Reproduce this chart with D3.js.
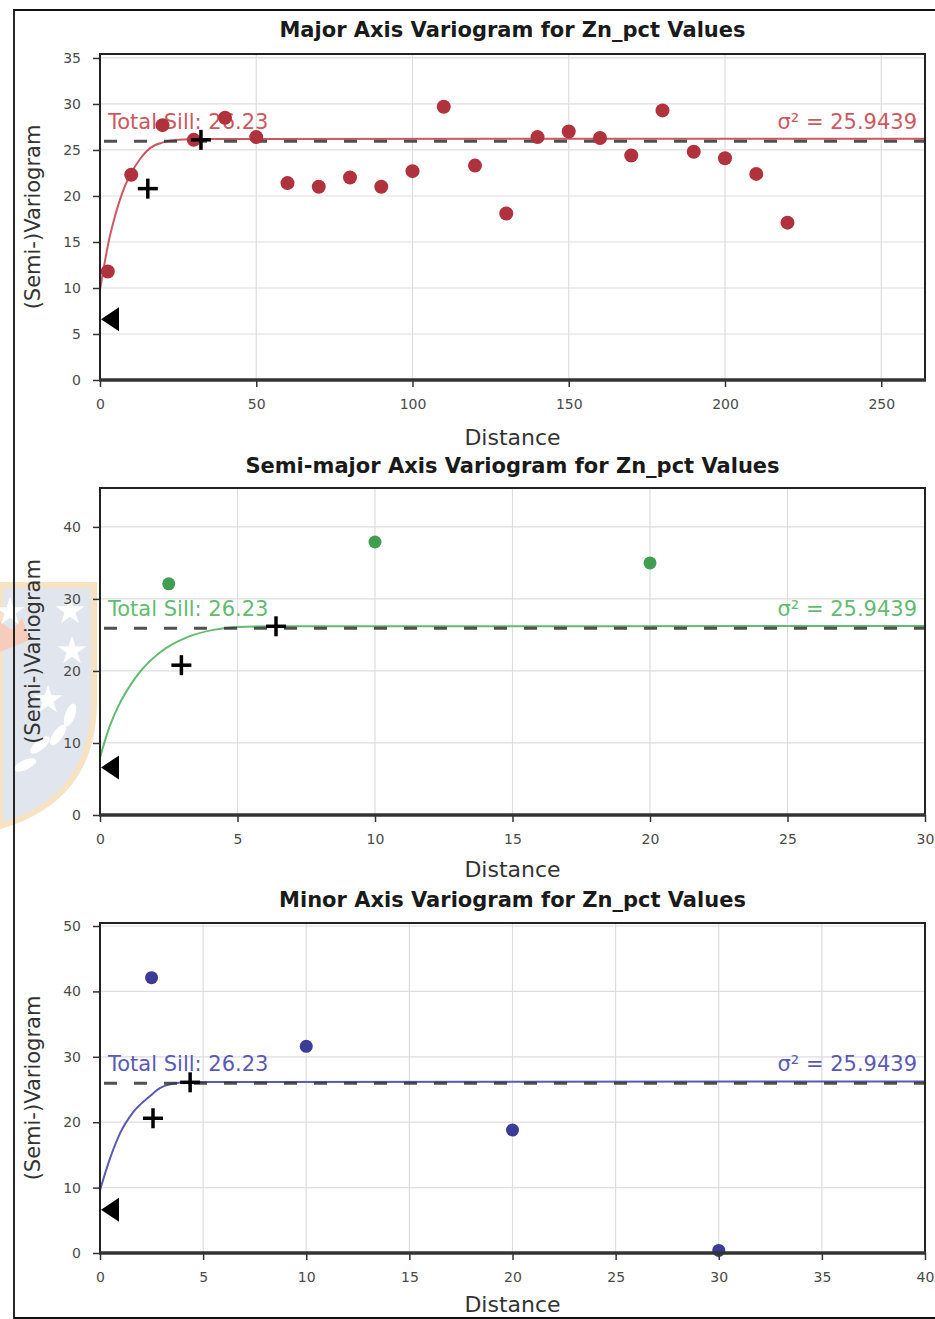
<!DOCTYPE html>
<html>
<head>
<meta charset="utf-8">
<script src="https://cdn.jsdelivr.net/npm/d3@7"></script>
<style>
  body { margin: 0; background: #fff; }
  svg { display: block; font-family: "DejaVu Sans", sans-serif; }
</style>
</head>
<body>
<div id="chart"></div>
<script>
const totalSill = 26.23;
const sampleVariance = 25.9439;
const nugget = 6.6;

// major axis
const majorLags = [2.5, 10, 20, 30, 40, 50, 60, 70, 80, 90, 100, 110, 120, 130, 140, 150, 160, 170, 180, 190, 200, 210, 220];
const majorGamma = [11.8, 22.3, 27.7, 26.1, 28.5, 26.4, 21.4, 21.0, 22.0, 21.0, 22.7, 29.7, 23.3, 18.1, 26.4, 27.0, 26.3, 24.4, 29.3, 24.8, 24.1, 22.4, 17.1];
const majorModelLags = [0, 1, 2, 3, 4, 6, 8, 10, 13, 16, 20, 25, 32, 264];
const majorModelGamma = [9.8, 11.8, 13.7, 15.4, 16.8, 19.2, 21.1, 22.5, 24.1, 25.2, 25.8, 26.1, 26.2, 26.23];
const majorRangeLags = [15.3, 32.3];
const majorRangeGamma = [20.8, 26.1];
const majorXTicks = [0, 50, 100, 150, 200, 250];
const majorYTicks = [0, 5, 10, 15, 20, 25, 30, 35];

// semi-major axis
const semiLags = [2.5, 10, 20];
const semiGamma = [32.1, 37.9, 35.0];
const semiModelLags = [0, 0.36, 0.73, 1.1, 1.46, 2.19, 3.18, 4.12, 5.0, 6.4, 30];
const semiModelGamma = [8.0, 12.4, 15.6, 18.0, 19.9, 22.6, 24.7, 25.7, 26.1, 26.2, 26.23];
const semiRangeLags = [2.96, 6.4];
const semiRangeGamma = [20.8, 26.2];
const semiXTicks = [0, 5, 10, 15, 20, 25, 30];
const semiYTicks = [0, 10, 20, 30, 40];

// minor axis
const minorLags = [2.5, 10, 20, 30];
const minorGamma = [42.1, 31.6, 18.8, 0.4];
const minorModelLags = [0, 0.49, 0.97, 1.6, 2.43, 2.9, 3.4, 4.4, 40];
const minorModelGamma = [9.6, 14.5, 18.3, 21.5, 24.0, 25.2, 25.8, 26.15, 26.23];
const minorRangeLags = [2.57, 4.37];
const minorRangeGamma = [20.6, 26.1];
const minorXTicks = [0, 5, 10, 15, 20, 25, 30, 35, 40];
const minorYTicks = [0, 10, 20, 30, 40, 50];

const width = 935;
const height = 1319;
const left = 100;
const right = 925;

const svg = d3.select('#chart')
  .append('svg')
  .attr('width', width)
  .attr('height', height)
  .attr('viewBox', `0 0 ${width} ${height}`);

svg.append('rect')
  .attr('width', width)
  .attr('height', height)
  .attr('fill', '#fff');

// faint crest printed behind the middle panel
function drawCrest() {
  const g = svg.append('g').attr('opacity', 0.7);
  g.append('path')
    .attr('d', 'M0,585 L94,585 L94,700 C94,768 62,808 0,826 Z')
    .attr('fill', '#d3dbe7')
    .attr('stroke', '#f5d6a8')
    .attr('stroke-width', 6);
  g.append('path')
    .attr('d', 'M0,622 L12,630 L22,618 L30,640 L0,652 Z')
    .attr('fill', '#f3b9a0');
  const star = d3.symbol().type(d3.symbolStar).size(260);
  [[10, 612], [70, 611], [72, 651], [48, 700]].forEach(([cx, cy]) => {
    g.append('path')
      .attr('d', star())
      .attr('transform', `translate(${cx},${cy})`)
      .attr('fill', '#fff');
  });
  [[40, 745, -40], [58, 735, -55], [25, 765, -25], [70, 715, -70]].forEach(([cx, cy, a]) => {
    g.append('ellipse')
      .attr('cx', cx)
      .attr('cy', cy)
      .attr('rx', 12)
      .attr('ry', 5)
      .attr('transform', `rotate(${a},${cx},${cy})`)
      .attr('fill', '#fff');
  });
}
drawCrest();

class VariogramPanel {
  constructor(opts) {
    Object.assign(this, opts);
  }

  init() {
    const { top, bottom, xMax, yMax } = this;
    this.x = d3.scaleLinear().domain([0, xMax]).range([left, right]);
    this.y = d3.scaleLinear().domain([0, yMax]).range([bottom, top]);
    this.g = svg.append('g');
    this.drawGrid();
    this.drawModel();
    this.drawPoints();
    this.drawAxes();
    this.drawLabels();
  }

  drawGrid() {
    const { g, x, y, xTicks, yTicks, top, bottom } = this;
    g.append('g')
      .selectAll('line')
      .data(xTicks)
      .join('line')
      .attr('x1', d => x(d)).attr('x2', d => x(d))
      .attr('y1', top).attr('y2', bottom)
      .attr('stroke', '#dedede')
      .attr('stroke-width', 1.2);
    g.append('g')
      .selectAll('line')
      .data(yTicks)
      .join('line')
      .attr('x1', left).attr('x2', right)
      .attr('y1', d => y(d)).attr('y2', d => y(d))
      .attr('stroke', '#dedede')
      .attr('stroke-width', 1.2);
  }

  drawModel() {
    const { g, x, y, modelLags, modelGamma, lightColor, xMax } = this;
    const line = d3.line()
      .x(d => x(d[0]))
      .y(d => y(d[1]))
      .curve(d3.curveMonotoneX);
    g.append('path')
      .attr('d', line(d3.zip(modelLags, modelGamma)))
      .attr('fill', 'none')
      .attr('stroke', lightColor)
      .attr('stroke-width', 2);

    g.append('line')
      .attr('x1', x(0)).attr('x2', x(xMax))
      .attr('y1', y(sampleVariance)).attr('y2', y(sampleVariance))
      .attr('stroke', '#333')
      .attr('stroke-opacity', 0.85)
      .attr('stroke-width', 3)
      .attr('stroke-dasharray', '13,17')
      .attr('stroke-dashoffset', -4);

    g.append('text')
      .attr('x', left + 8)
      .attr('y', y(totalSill) - 10)
      .attr('font-size', 21)
      .attr('fill', lightColor)
      .text(`Total Sill: ${totalSill.toFixed(2)}`);
    g.append('text')
      .attr('x', right - 8)
      .attr('y', y(totalSill) - 10)
      .attr('font-size', 21)
      .attr('text-anchor', 'end')
      .attr('fill', lightColor)
      .text(`σ² = ${sampleVariance}`);
  }

  drawPoints() {
    const { g, x, y, lags, gamma, rangeLags, rangeGamma, color, r } = this;
    g.append('g')
      .selectAll('circle')
      .data(d3.zip(lags, gamma))
      .join('circle')
      .attr('cx', d => x(d[0]))
      .attr('cy', d => y(d[1]))
      .attr('r', r)
      .attr('fill', color);

    const cross = g.append('g')
      .selectAll('g')
      .data(d3.zip(rangeLags, rangeGamma))
      .join('g')
      .attr('transform', d => `translate(${x(d[0])},${y(d[1])})`);
    cross.append('line')
      .attr('x1', -10).attr('x2', 10)
      .attr('stroke', '#000').attr('stroke-width', 3.5);
    cross.append('line')
      .attr('y1', -10).attr('y2', 10)
      .attr('stroke', '#000').attr('stroke-width', 3.5);

    // nugget marker
    const nx = x(0);
    const ny = y(nugget);
    g.append('path')
      .attr('d', `M${nx + 1},${ny} L${nx + 19},${ny - 12} L${nx + 19},${ny + 12} Z`)
      .attr('fill', '#000');
  }

  drawAxes() {
    const { g, x, y, xTicks, yTicks, top, bottom } = this;
    const xAxis = g.append('g')
      .attr('transform', `translate(0,${bottom})`)
      .call(d3.axisBottom(x).tickValues(xTicks).tickSize(7).tickPadding(12).tickSizeOuter(0));
    const yAxis = g.append('g')
      .attr('transform', `translate(${left},0)`)
      .call(d3.axisLeft(y).tickValues(yTicks).tickSize(7).tickPadding(12).tickSizeOuter(0));
    [xAxis, yAxis].forEach(a => {
      a.select('.domain').remove();
      a.selectAll('line').attr('stroke', '#333').attr('stroke-width', 1.5);
      a.selectAll('text')
        .attr('font-size', 14)
        .attr('font-family', '"DejaVu Sans", sans-serif')
        .attr('fill', '#4a4a4a');
    });

    g.append('rect')
      .attr('x', left)
      .attr('y', top)
      .attr('width', right - left)
      .attr('height', bottom - top)
      .attr('fill', 'none')
      .attr('stroke', '#222')
      .attr('stroke-width', 2);
    g.append('line')
      .attr('x1', left - 1).attr('x2', right + 1)
      .attr('y1', bottom).attr('y2', bottom)
      .attr('stroke', '#333')
      .attr('stroke-width', 3.5);
  }

  drawLabels() {
    const { g, title, top, bottom, titleY, xLabelY } = this;
    const mid = (left + right) / 2;
    g.append('text')
      .attr('x', mid)
      .attr('y', titleY)
      .attr('text-anchor', 'middle')
      .attr('font-size', 21)
      .attr('font-weight', 'bold')
      .attr('fill', '#1a1a1a')
      .text(title);
    g.append('text')
      .attr('x', mid)
      .attr('y', xLabelY)
      .attr('text-anchor', 'middle')
      .attr('font-size', 22)
      .attr('fill', '#333')
      .text('Distance');
    g.append('text')
      .attr('transform', `translate(33,${(top + bottom) / 2}) rotate(-90)`)
      .attr('dy', '0.35em')
      .attr('text-anchor', 'middle')
      .attr('font-size', 21)
      .attr('fill', '#333')
      .text('(Semi-)Variogram');
  }
}

new VariogramPanel({
  title: 'Major Axis Variogram for Zn_pct Values',
  top: 54, bottom: 380, titleY: 37, xLabelY: 445,
  xMax: 264, yMax: 35.43,
  xTicks: majorXTicks, yTicks: majorYTicks,
  lags: majorLags, gamma: majorGamma,
  modelLags: majorModelLags, modelGamma: majorModelGamma,
  rangeLags: majorRangeLags, rangeGamma: majorRangeGamma,
  color: '#b0323d', lightColor: '#cc5862', r: 7
}).init();

new VariogramPanel({
  title: 'Semi-major Axis Variogram for Zn_pct Values',
  top: 488, bottom: 815, titleY: 473, xLabelY: 877,
  xMax: 30, yMax: 45.4,
  xTicks: semiXTicks, yTicks: semiYTicks,
  lags: semiLags, gamma: semiGamma,
  modelLags: semiModelLags, modelGamma: semiModelGamma,
  rangeLags: semiRangeLags, rangeGamma: semiRangeGamma,
  color: '#3f9e50', lightColor: '#62bb70', r: 6.5
}).init();

new VariogramPanel({
  title: 'Minor Axis Variogram for Zn_pct Values',
  top: 923, bottom: 1253, titleY: 907, xLabelY: 1312,
  xMax: 40, yMax: 50.46,
  xTicks: minorXTicks, yTicks: minorYTicks,
  lags: minorLags, gamma: minorGamma,
  modelLags: minorModelLags, modelGamma: minorModelGamma,
  rangeLags: minorRangeLags, rangeGamma: minorRangeGamma,
  color: '#3b3b98', lightColor: '#5a5ab4', r: 6.5
}).init();

// page frame
svg.append('path')
  .attr('d', `M${width + 5},10 L14,10 L14,1318 L${width + 5},1318`)
  .attr('fill', 'none')
  .attr('stroke', '#111')
  .attr('stroke-width', 1.8);
</script>
</body>
</html>
